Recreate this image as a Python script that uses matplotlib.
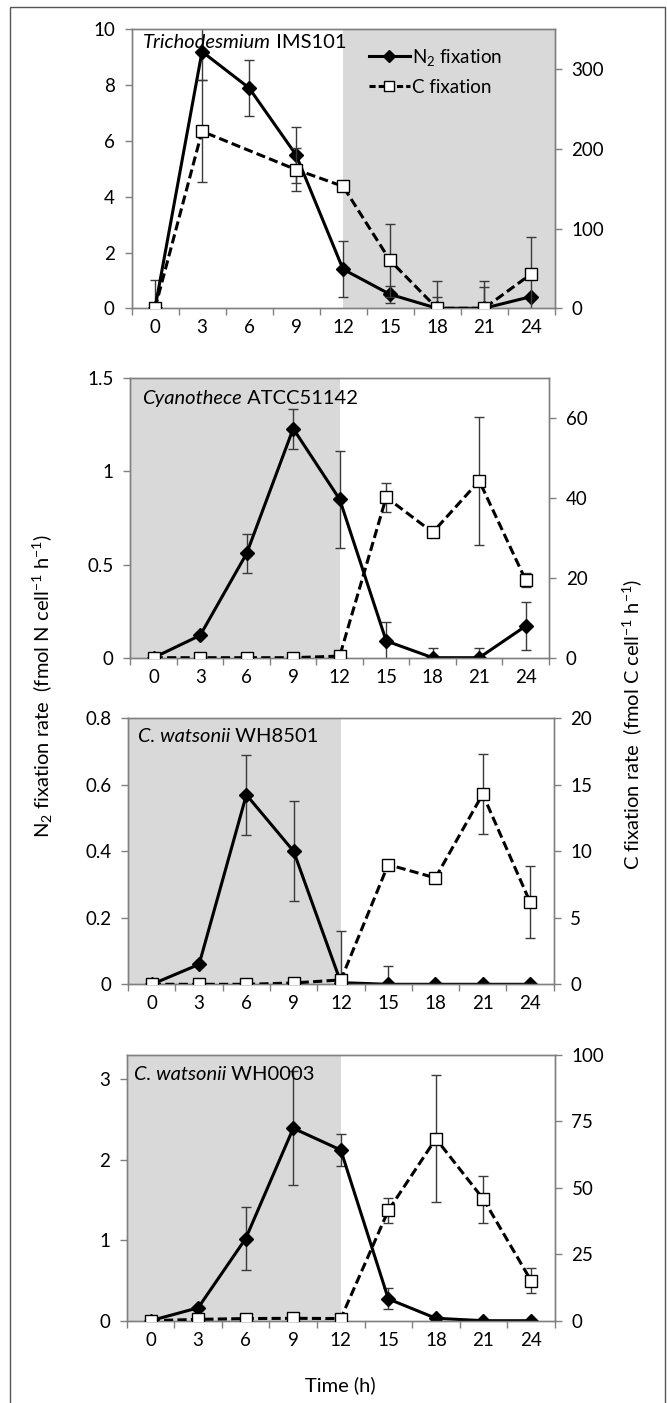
import numpy as np
import matplotlib
matplotlib.use("Agg")
import matplotlib.pyplot as plt
from matplotlib.patches import Rectangle
from matplotlib.lines import Line2D

plt.rcParams['font.family'] = ['Lato', 'DejaVu Sans']
plt.rcParams['mathtext.fontset'] = 'custom'
plt.rcParams['mathtext.rm'] = 'Lato'
plt.rcParams['mathtext.it'] = 'Lato:italic'

# ---- data ----
hours = [0, 3, 6, 9, 12, 15, 18, 21, 24]

tri_n2 = [0, 9.2, 7.9, 5.5, 1.4, 0.5, 0, 0, 0.42]
tri_n2_err = [1.0, 1.0, 1.0, 1.0, 1.0, 0.3, 0.42, 0.75, 0]
tri_c = [0, 222, np.nan, 174, 153, 60, 0, 0, 43]
tri_c_err = [0, 64, np.nan, 27, 0, 46, 34, 34, 46]

cya_n2 = [0, 0.12, 0.56, 1.23, 0.85, 0.09, 0, 0, 0.17]
cya_n2_err = [0, 0.01, 0.104, 0.107, 0.26, 0.1, 0.05, 0.05, 0.13]
cya_c = [0, 0, 0, 0, 0.4, 40.2, 31.4, 44.3, 19.4]
cya_c_err = [0, 0, 0, 0, 0, 3.6, 0, 16, 1.8]

w85_n2 = [0, 0.06, 0.57, 0.40, 0.005, 0, 0, 0, 0]
w85_n2_err = [0, 0, 0.12, 0.15, 0.155, 0.055, 0, 0, 0]
w85_c = [0, 0, 0, 0.1, 0.33, 9.0, 8.0, 14.3, 6.2]
w85_c_err = [0, 0, 0, 0, 0, 0, 0, 3.0, 2.7]

w03_n2 = [0, 0.16, 1.02, 2.39, 2.12, 0.27, 0.03, 0, 0]
w03_n2_err = [0, 0, 0.39, 0.71, 0.2, 0.13, 0, 0, 0]
w03_c = [0, 0.5, 0.8, 0.9, 0.8, 41.5, 68.5, 45.7, 15.1]
w03_c_err = [0, 0, 0, 0, 0, 4.6, 24, 8.8, 4.7]

panels = [
    # species, strain, n2, n2err, c, cerr, left lim, left ticks, right lim, right ticks, dark span (hours)
    ('Trichodesmium', 'IMS101', tri_n2, tri_n2_err, tri_c, tri_c_err,
     10, [0, 2, 4, 6, 8, 10], 350, [0, 100, 200, 300], (12, 'end')),
    ('Cyanothece', 'ATCC51142', cya_n2, cya_n2_err, cya_c, cya_c_err,
     1.5, [0, 0.5, 1, 1.5], 70, [0, 20, 40, 60], ('start', 12)),
    ('C. watsonii', 'WH8501', w85_n2, w85_n2_err, w85_c, w85_c_err,
     0.8, [0, 0.2, 0.4, 0.6, 0.8], 20, [0, 5, 10, 15, 20], ('start', 12)),
    ('C. watsonii', 'WH0003', w03_n2, w03_n2_err, w03_c, w03_c_err,
     3.3, [0, 1, 2, 3], 100, [0, 25, 50, 75, 100], ('start', 12)),
]

# axes boxes in pixels: left, right, top, bottom
boxes = [(131.5, 554.6, 29.3, 308.3),
         (130.4, 549.0, 378.3, 657.7),
         (128.2, 553.6, 718.3, 984.3),
         (126.8, 554.8, 1055.0, 1320.7)]
label_pos = [(143, 43), (142, 399), (138, 736.7), (134, 1075)]

W, H = 667, 1403
fig = plt.figure(figsize=(W / 100, H / 100), dpi=100)

GRAY = '#808080'
FS = 13.5
TFS = 14.5
idx = np.arange(len(hours))


def hour_to_idx(h):
    if h == 'start':
        return -0.5
    if h == 'end':
        return len(hours) - 0.5
    return hours.index(h)


def fmt(v):
    return '{:g}'.format(v)


for k, (sp, strain, n2, n2e, c, ce, lmax, lticks, rmax, rticks, span) in enumerate(panels):
    l, r, t, b = boxes[k]
    ax = fig.add_axes([l / W, 1 - b / H, (r - l) / W, (b - t) / H])
    ax2 = ax.twinx()

    ax.axvspan(hour_to_idx(span[0]), hour_to_idx(span[1]), color='#d9d9d9', lw=0, zorder=0)

    n2 = np.array(n2, float)
    n2e = np.array(n2e, float)
    c = np.array(c, float)
    ce = np.array(ce, float)

    m = n2e > 0
    ax.errorbar(idx[m], n2[m], yerr=n2e[m], fmt='none', ecolor='#3a3a3a',
                elinewidth=1, capsize=3.5, capthick=1, zorder=2)
    ax.plot(idx, n2, color='black', lw=2.2, marker='D', markersize=7.5,
            markerfacecolor='black', markeredgecolor='black', zorder=3)

    ok = ~np.isnan(c)
    m = ok & (np.nan_to_num(ce) > 0)
    ax2.errorbar(idx[m], c[m], yerr=ce[m], fmt='none', ecolor='#3a3a3a',
                 elinewidth=1, capsize=3.5, capthick=1, zorder=2)
    ax2.plot(idx[ok], c[ok], color='black', lw=2.2, dashes=(3, 1.4), marker='s',
             markersize=9, markerfacecolor='white', markeredgecolor='black',
             markeredgewidth=1, zorder=3)

    ax.set_xlim(-0.5, len(hours) - 0.5)
    ax.set_ylim(0, lmax)
    ax2.set_ylim(0, rmax)

    ax.set_xticks(idx)
    ax.set_xticklabels([str(h) for h in hours], fontsize=FS)
    ax.set_xticks(np.arange(-0.5, len(hours), 1), minor=True)
    ax.tick_params(axis='x', which='major', length=0, pad=8)
    ax.tick_params(axis='x', which='minor', length=5, width=1, color=GRAY, direction='out')

    ax.set_yticks(lticks)
    ax.set_yticklabels([fmt(v) for v in lticks], fontsize=FS)
    ax.tick_params(axis='y', length=5, width=1, color=GRAY, direction='out', pad=7)
    ax2.set_yticks(rticks)
    ax2.set_yticklabels([fmt(v) for v in rticks], fontsize=FS)
    ax2.tick_params(axis='y', length=5, width=1, color=GRAY, direction='out', pad=7)

    for a in (ax, ax2):
        for s in a.spines.values():
            s.set_color(GRAY)
            s.set_linewidth(1)

    lx, ly = label_pos[k]
    t1 = fig.text(lx / W, 1 - ly / H, sp, fontsize=TFS, style='italic', va='center', ha='left')
    ax.annotate(' ' + strain, xy=(1, 0.5), xycoords=t1, va='center', ha='left', fontsize=TFS)

    if k == 0:
        h1 = Line2D([], [], color='black', lw=2.2, marker='D', markersize=6)
        h2 = Line2D([], [], color='black', lw=2.2, dashes=(2, 1), marker='s', markersize=7.5,
                    markerfacecolor='white', markeredgecolor='black', markeredgewidth=1)
        ax2.legend([h1, h2], ['N$_2$ fixation', 'C fixation'], loc='upper left',
                   bbox_to_anchor=(0.53, 0.985), frameon=False, fontsize=FS,
                   handlelength=2.2, handletextpad=0.1, labelspacing=0.6,
                   borderaxespad=0.3)

fig.text(43 / W, 1 - 686 / H,
         'N$_2$ fixation rate  (fmol N cell$^{-1}$ h$^{-1}$)',
         rotation=90, ha='center', va='center', fontsize=TFS)
fig.text(632 / W, 1 - 724 / H,
         'C fixation rate  (fmol C cell$^{-1}$ h$^{-1}$)',
         rotation=90, ha='center', va='center', fontsize=TFS)
fig.text(340 / W, 1 - 1385 / H, 'Time (h)', ha='center', va='center', fontsize=TFS)

# outer frame
fig.patches.append(Rectangle((10 / W, -0.01), 655 / W, 1 - 6.7 / H + 0.01,
                             transform=fig.transFigure, fill=False,
                             edgecolor='#555555', lw=1))

fig.savefig('out.png', dpi=100)
